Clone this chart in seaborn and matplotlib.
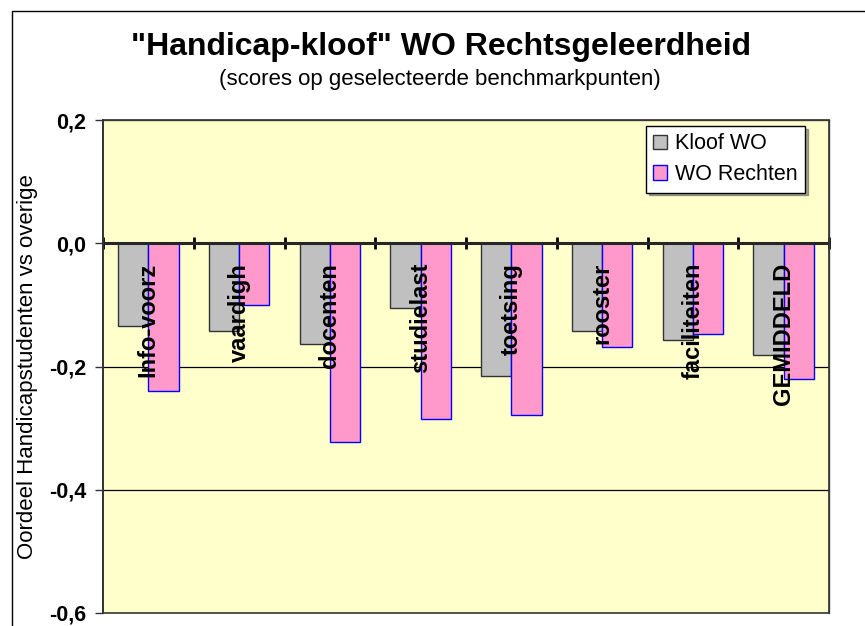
import matplotlib
matplotlib.use("Agg")
import matplotlib.pyplot as plt
import seaborn as sns
import pandas as pd
import numpy as np
from matplotlib.patches import Rectangle
from matplotlib.ticker import FuncFormatter

categories = ["Info-voorz", "vaardigh", "docenten", "studielast",
              "toetsing", "rooster", "faciliteiten", "GEMIDDELD"]
series_names = ["Kloof WO", "WO Rechten"]
kloof_wo = [-0.135, -0.142, -0.164, -0.105, -0.216, -0.142, -0.157, -0.182]
wo_rechten = [-0.240, -0.101, -0.322, -0.285, -0.279, -0.169, -0.147, -0.221]
yticks = [0.2, 0.0, -0.2, -0.4, -0.6]

df = pd.DataFrame({
    "cat": categories * 2,
    "serie": [series_names[0]] * len(categories) + [series_names[1]] * len(categories),
    "val": kloof_wo + wo_rechten,
})

sns.set_style("white")
plt.rcParams["font.family"] = ["Liberation Sans", "DejaVu Sans"]
plt.rcParams["text.color"] = "black"
plt.rcParams["axes.labelcolor"] = "black"
plt.rcParams["ytick.color"] = "black"

fig = plt.figure(figsize=(8.65, 6.26), dpi=100)
ax = fig.add_axes([103/865, 1 - 613/626, (829-103)/865, (613-120)/626])
ax.set_facecolor("#FFFFCC")

face = {"Kloof WO": "#C0C0C0", "WO Rechten": "#FF99CC"}
edge = {"Kloof WO": "#333333", "WO Rechten": "#0000FF"}
sns.barplot(data=df, x="cat", y="val", hue="serie", palette=face, saturation=1,
            width=0.667, ax=ax, zorder=3, legend=False)
for cont, name in zip(ax.containers, series_names):
    for bar in cont:
        bar.set_edgecolor(edge[name])
        bar.set_linewidth(1)

ax.set_ylim(-0.6, 0.2)
ax.set_xlim(-0.5, len(categories) - 0.5)
ax.set_yticks(yticks)
ax.yaxis.set_major_formatter(FuncFormatter(lambda v, p: f"{v:.1f}".replace(".", ",")))
ax.tick_params(axis="y", left=True, direction="out", length=6, width=1,
               labelsize=15.5, pad=6, color="#333333")
for t in ax.get_yticklabels():
    t.set_fontweight("bold")
for yv in [-0.2, -0.4]:
    ax.axhline(yv, color="black", lw=0.9, zorder=1)

# zero line with category tick marks
ax.spines["bottom"].set_position(("data", 0))
ax.spines["bottom"].set_linewidth(2.2)
ax.spines["bottom"].set_zorder(4)
ax.set_xticks(np.arange(-0.5, len(categories)))
ax.set_xticklabels([])
ax.tick_params(axis="x", bottom=True, direction="inout", length=9, width=2, color="black")
ax.set_xlabel("")
ax.spines["left"].set_color("#333333")
ax.spines["left"].set_linewidth(1.3)
for s in ["top", "right"]:
    ax.spines[s].set_color("#555555")
    ax.spines[s].set_linewidth(1)
ax.add_patch(Rectangle((0, 0), 1, 1, transform=ax.transAxes, fill=False,
                       edgecolor="#333333", lw=1.2, zorder=5, clip_on=False))

for i, c in enumerate(categories):
    ax.text(i, -0.032, c, rotation=90, ha="center", va="top",
            fontsize=17, fontweight="bold", zorder=6)

ax.set_ylabel("Oordeel Handicapstudenten vs overige", fontsize=16, labelpad=8)

handles = [Rectangle((0, 0), 1, 1, facecolor=face[n], edgecolor=edge[n]) for n in series_names]
leg = ax.legend(handles, series_names, loc="upper right", bbox_to_anchor=(0.967, 0.988),
                borderaxespad=0, fontsize=15.5, frameon=True, fancybox=False, shadow=True,
                handlelength=0.65, handleheight=0.65, handletextpad=0.35,
                labelspacing=0.45, borderpad=0.35)
leg.get_frame().set_edgecolor("black")
leg.get_frame().set_facecolor("white")
leg.set_zorder(7)

fig.text(441/865, 1 - 47/626, "\"Handicap-kloof\" WO Rechtsgeleerdheid",
         ha="center", va="center", fontsize=23, fontweight="bold")
fig.text(440/865, 1 - 80/626, "(scores op geselecteerde benchmarkpunten)",
         ha="center", va="center", fontsize=16)

fig.patches.append(Rectangle((12/865, -0.1), 1.1, 1.1 - 11/626,
                             transform=fig.transFigure, fill=False,
                             edgecolor="black", lw=1))

fig.savefig("out.png", dpi=100)
